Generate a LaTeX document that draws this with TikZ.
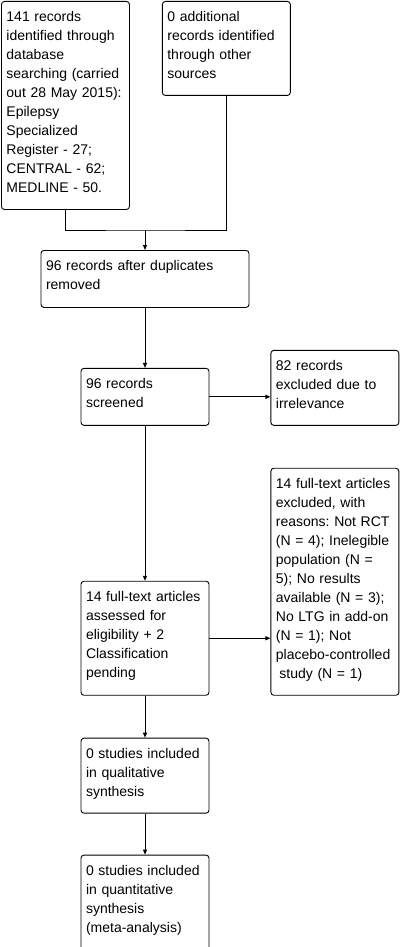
\documentclass[tikz,border=0pt]{standalone}
\usepackage{fontspec}
\setmainfont{Liberation Sans}
\usetikzlibrary{arrows.meta,positioning}
\frenchspacing

\begin{document}
\begin{tikzpicture}[
  x=1pt, y=1pt,
  font=\fontsize{14}{19}\selectfont,
  flowbox/.style={draw, rounded corners=3pt, line width=0.9pt, align=left,
    text width=118pt, inner xsep=5pt, inner ysep=0pt, text height=20pt},
  arrow/.style={-{Triangle[length=5pt,width=4pt]}, line width=0.9pt}
]
\useasboundingbox (0,0) rectangle (402,-947);

\node[flowbox, anchor=north west, text depth=188pt] (dbsearch) at (1,-1)
  {141 records\\identified through\\database\\searching (carried\\out 28 May 2015):\\Epilepsy\\Specialized\\Register - 27;\\CENTRAL - 62;\\MEDLINE - 50.};
\node[flowbox, right=32pt of dbsearch.north east, anchor=north west, text depth=74pt] (othersrc)
  {0 additional\\records identified\\through other\\sources};
\node[flowbox, anchor=north, text width=198pt, text depth=37pt] (dedup) at (145,-250)
  {96 records after duplicates\\removed};
\node[flowbox, below=60pt of dedup, text depth=37pt] (screened)
  {96 records\\screened};
\node[flowbox, right=61pt of screened.south east, anchor=south west, text depth=55pt] (irrelevant)
  {82 records\\excluded due to\\irrelevance};
\node[flowbox, below=155pt of screened, text depth=94pt] (fulltext)
  {14 full-text articles\\assessed for\\eligibility + 2\\Classification\\pending};
\node[flowbox, right=61pt of fulltext.south east, anchor=south west, text depth=207pt] (ftexcl)
  {14 full-text articles\\excluded, with\\reasons: Not RCT\\(N = 4); Inelegible\\population (N =\\5); No results\\available (N = 3);\\No LTG in add-on\\(N = 1); Not\\placebo-controlled\\\hspace*{0.25em}study (N = 1)};
\node[flowbox, below=42pt of fulltext, text depth=55pt] (qualit)
  {0 studies included\\in qualitative\\synthesis};
\node[flowbox, below=41pt of qualit, text depth=75pt] (quantit)
  {0 studies included\\in quantitative\\synthesis\\(meta-analysis)};

\coordinate[above=20pt of dedup.north] (join);
\draw[line width=0.9pt] (dbsearch.south) |- (join) -| (othersrc.south);
\draw[arrow] (join) -- (dedup.north);
\draw[arrow] (dedup) -- (screened);
\draw[arrow] (screened.east) -- (screened.east -| irrelevant.west);
\draw[arrow] (screened) -- (fulltext);
\draw[arrow] (fulltext.east) -- (fulltext.east -| ftexcl.west);
\draw[arrow] (fulltext) -- (qualit);
\draw[arrow] (qualit) -- (quantit);
\end{tikzpicture}
\end{document}
